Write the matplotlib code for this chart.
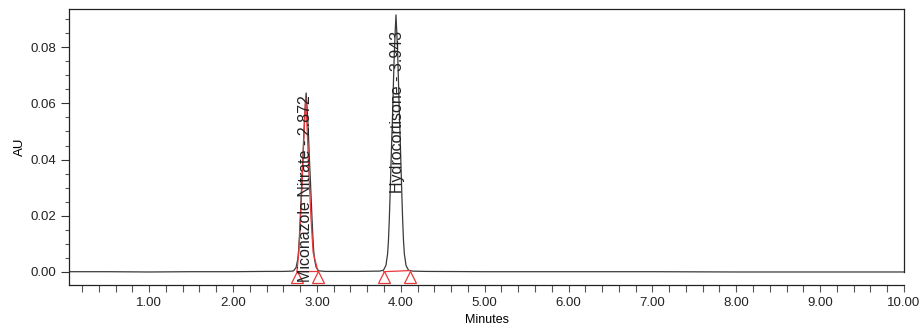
import matplotlib
matplotlib.use("Agg")
import matplotlib.pyplot as plt
from matplotlib.ticker import MultipleLocator, FormatStrFormatter

plt.rcParams['font.family'] = ['Liberation Sans', 'DejaVu Sans']

# chromatogram trace (minutes, AU)
time = [0.05, 0.5, 1.0, 1.5, 2.0, 2.4, 2.6, 2.70,
        2.722, 2.752, 2.772, 2.782, 2.792, 2.802, 2.812, 2.822, 2.832, 2.842, 2.852, 2.862,
        2.872,
        2.882, 2.892, 2.902, 2.912, 2.922, 2.932, 2.942, 2.952, 2.962, 2.972, 2.992, 3.022,
        3.1, 3.3, 3.5, 3.70, 3.743, 3.793,
        3.823, 3.843, 3.853, 3.863, 3.873, 3.883, 3.893, 3.903, 3.913, 3.923, 3.933,
        3.943,
        3.953, 3.963, 3.973, 3.983, 3.993, 4.003, 4.013, 4.023, 4.033, 4.043, 4.063, 4.093,
        4.143, 4.3, 5.0, 6.0, 7.0, 8.0, 9.0, 10.0]
absorb = [0.0001, 0.0001, 0.0000, 0.0001, 0.0001, 0.0002, 0.0002, 0.0003,
          0.0004, 0.0016, 0.0045, 0.0076, 0.0127, 0.0191, 0.0261, 0.0331, 0.0395, 0.0471, 0.0541, 0.0592,
          0.0637,
          0.0592, 0.0541, 0.0471, 0.0395, 0.0331, 0.0261, 0.0191, 0.0127, 0.0076, 0.0045, 0.0016, 0.0004,
          0.0002, 0.0002, 0.0002, 0.0003, 0.0003, 0.0006,
          0.0023, 0.0064, 0.0110, 0.0183, 0.0275, 0.0375, 0.0476, 0.0567, 0.0677, 0.0778, 0.0851,
          0.0915,
          0.0851, 0.0778, 0.0677, 0.0567, 0.0476, 0.0375, 0.0275, 0.0183, 0.0110, 0.0064, 0.0023, 0.0006,
          0.0003, 0.0002, 0.0001, 0.0001, 0.0001, 0.0000, 0.0000, 0.0000]

# integration outline of first peak (red)
mic_fit_t = [2.762, 2.785, 2.805, 2.825, 2.845, 2.866, 2.888, 2.908, 2.930, 2.955, 3.013]
mic_fit_y = [0.0002, 0.0070, 0.0190, 0.0320, 0.0480, 0.0622, 0.0480, 0.0330, 0.0190, 0.0070, 0.0002]

# peak start / end marks and baselines
mic_marks_t = [2.762, 3.013]
mic_marks_y = [0.0002, 0.0002]
hyd_marks_t = [3.796, 4.106]
hyd_marks_y = [0.0001, 0.0005]

peak_names = ["Miconazole Nitrate - 2.872", "Hydrocortisone - 3.943"]
label_x = [2.867, 3.962]
label_y = [-0.0036, 0.0282]

fig = plt.figure(figsize=(9.19, 3.32), dpi=100)
ax = fig.add_axes([0.0751, 0.1416, 0.9086, 0.8313])

ax.plot(time, absorb, color="#3a3a3a", lw=0.9)
ax.plot(mic_fit_t, mic_fit_y, color="#e8383a", lw=0.9)
ax.plot(mic_marks_t, mic_marks_y, color="#e8383a", lw=0.9)
ax.plot(hyd_marks_t, hyd_marks_y, color="#e8383a", lw=0.9)
tri_t = mic_marks_t + hyd_marks_t
tri_y = [-0.0019] * len(tri_t)
ax.plot(tri_t, tri_y, ls="none", marker="^", ms=8, mfc="none",
        mec="#e8383a", mew=0.9)

for name, x, y in zip(peak_names, label_x, label_y):
    ax.text(x, y, name, rotation=90, ha="center", va="bottom",
            fontsize=11.5, color="#222222")

ax.set_xlim(0.045, 10.0)
ax.set_ylim(-0.00463, 0.0936)
ax.xaxis.set_major_locator(MultipleLocator(1.0))
ax.xaxis.set_minor_locator(MultipleLocator(0.2))
ax.yaxis.set_major_locator(MultipleLocator(0.02))
ax.yaxis.set_minor_locator(MultipleLocator(0.005))
ax.xaxis.set_major_formatter(FormatStrFormatter("%.2f"))
ax.yaxis.set_major_formatter(FormatStrFormatter("%.2f"))
ax.tick_params(axis="both", which="major", labelsize=9.5, colors="#333333",
               labelcolor="#222222", width=0.8)
ax.tick_params(axis="x", which="both", length=5, width=0.8, color="#555555")
ax.tick_params(axis="y", which="major", length=6)
ax.tick_params(axis="y", which="minor", length=3, width=0.8, color="#555555")
ax.set_xticks([t for t in ax.get_xticks() if 0.5 < t <= 10.0])

for side in ["left", "bottom", "top", "right"]:
    ax.spines[side].set_color("#222222")
    ax.spines[side].set_linewidth(0.9)
ax.spines["right"].set_bounds(0.0, 0.0936)

ax.set_xlabel("Minutes", fontsize=9, labelpad=4)
ax.set_ylabel("AU", fontsize=9.5, labelpad=3)

fig.savefig("out.png", dpi=100)
